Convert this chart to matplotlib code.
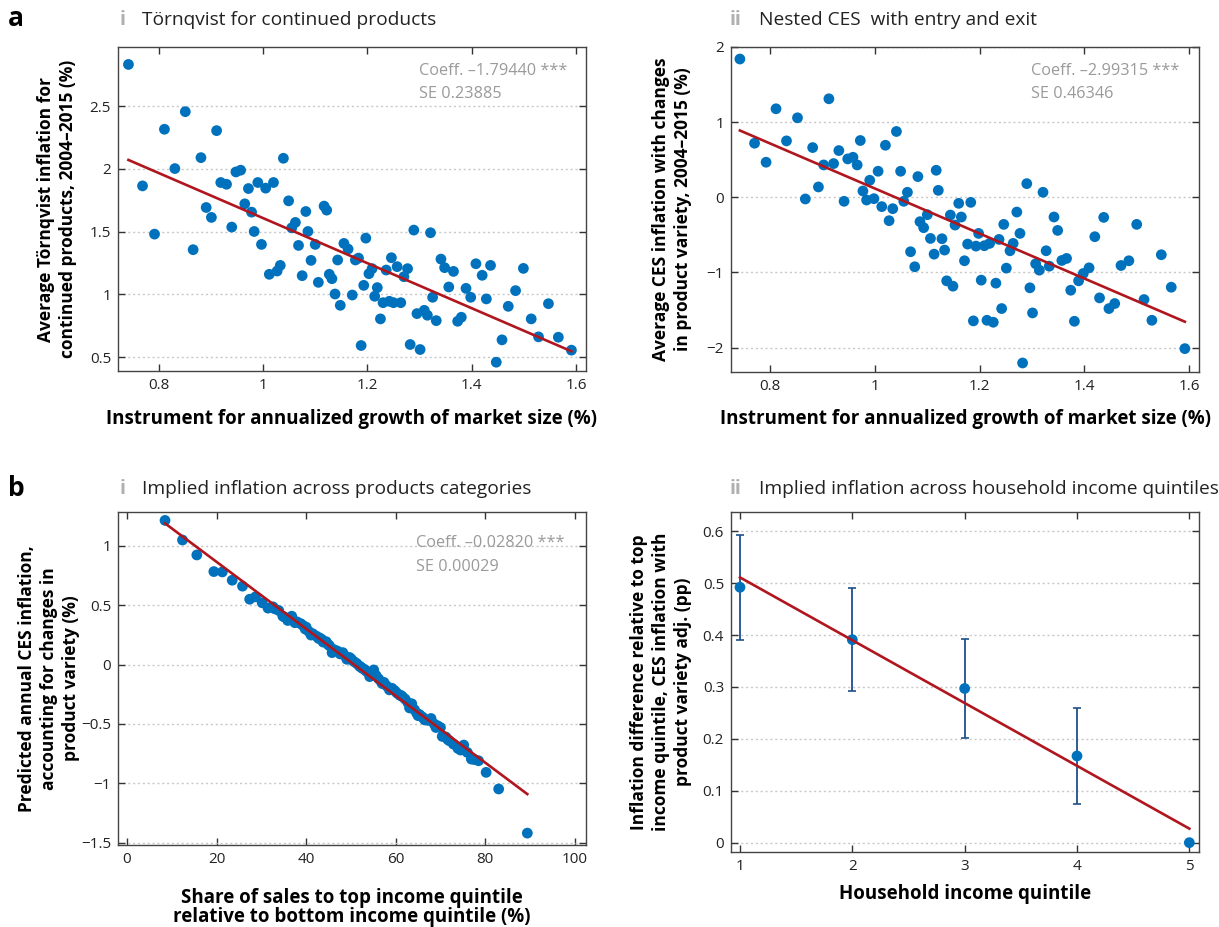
import numpy as np
import matplotlib
matplotlib.use("Agg")
import matplotlib.pyplot as plt
from matplotlib.ticker import FuncFormatter

plt.rcParams['font.family'] = ['Open Sans', 'DejaVu Sans']

# panel a-i : Tornqvist for continued products
ai_x = [0.742, 0.769, 0.792, 0.811, 0.831, 0.851, 0.866, 0.881, 0.891, 0.901,
        0.911, 0.919, 0.930, 0.940, 0.948, 0.957, 0.965, 0.972, 0.978, 0.983,
        0.990, 0.997, 1.005, 1.012, 1.020, 1.027, 1.033, 1.039, 1.049, 1.055,
        1.062, 1.068, 1.075, 1.082, 1.086, 1.092, 1.100, 1.106, 1.117, 1.122,
        1.127, 1.132, 1.138, 1.143, 1.148, 1.155, 1.163, 1.171, 1.177, 1.183,
        1.188, 1.193, 1.197, 1.203, 1.209, 1.214, 1.219, 1.225, 1.230, 1.236,
        1.242, 1.246, 1.250, 1.257, 1.264, 1.270, 1.277, 1.282, 1.289, 1.295,
        1.301, 1.309, 1.315, 1.321, 1.325, 1.332, 1.341, 1.348, 1.356, 1.365,
        1.373, 1.380, 1.389, 1.398, 1.408, 1.420, 1.428, 1.436, 1.447, 1.458,
        1.470, 1.484, 1.499, 1.514, 1.528, 1.547, 1.566, 1.591]
ai_y = [2.831, 1.864, 1.480, 2.315, 2.002, 2.455, 1.356, 2.089, 1.692, 1.613,
        2.304, 1.891, 1.877, 1.536, 1.975, 1.989, 1.721, 1.843, 1.655, 1.501,
        1.891, 1.398, 1.846, 1.160, 1.891, 1.186, 1.231, 2.084, 1.745, 1.530,
        1.573, 1.390, 1.149, 1.660, 1.501, 1.271, 1.398, 1.096, 1.703, 1.671,
        1.160, 1.125, 1.003, 1.274, 0.913, 1.406, 1.361, 0.995, 1.274, 1.289,
        0.593, 1.072, 1.448, 1.165, 1.205, 0.985, 1.054, 0.805, 0.934, 1.194,
        0.945, 1.292, 0.934, 1.221, 0.934, 1.141, 1.205, 0.601, 1.512, 0.847,
        0.561, 0.873, 0.834, 1.491, 0.977, 0.791, 1.281, 1.213, 1.059, 1.183,
        0.786, 0.818, 1.048, 0.977, 1.244, 1.152, 0.964, 1.231, 0.460, 0.638,
        0.905, 1.030, 1.207, 0.805, 0.662, 0.926, 0.659, 0.556]
ai_coef, ai_const = -1.79440, 3.402

# panel a-ii : nested CES with entry and exit
aii_x = [0.742, 0.770, 0.792, 0.811, 0.831, 0.852, 0.867, 0.881, 0.892, 0.902,
         0.912, 0.921, 0.931, 0.941, 0.948, 0.958, 0.966, 0.972, 0.977, 0.984,
         0.990, 0.998, 1.006, 1.013, 1.020, 1.027, 1.034, 1.041, 1.049, 1.055,
         1.062, 1.068, 1.076, 1.082, 1.086, 1.093, 1.100, 1.106, 1.113, 1.117,
         1.121, 1.128, 1.133, 1.137, 1.144, 1.149, 1.153, 1.160, 1.165, 1.171,
         1.177, 1.183, 1.188, 1.193, 1.198, 1.203, 1.209, 1.214, 1.219, 1.226,
         1.231, 1.237, 1.242, 1.246, 1.251, 1.258, 1.264, 1.271, 1.277, 1.282,
         1.290, 1.296, 1.301, 1.307, 1.314, 1.321, 1.327, 1.333, 1.342, 1.349,
         1.357, 1.366, 1.374, 1.381, 1.389, 1.398, 1.409, 1.420, 1.429, 1.437,
         1.447, 1.458, 1.470, 1.485, 1.500, 1.514, 1.529, 1.547, 1.566, 1.592]
aii_y = [1.840, 0.720, 0.467, 1.178, 0.751, 1.058, -0.022, 0.662, 0.138, 0.431,
         1.311, 0.449, 0.622, -0.053, 0.511, 0.533, 0.431, 0.756, 0.084, -0.036,
         0.227, -0.018, 0.347, -0.124, 0.693, -0.311, -0.151, 0.876, 0.347, -0.053,
         0.067, -0.724, -0.924, 0.276, -0.324, -0.404, -0.231, -0.547, -0.756, 0.360,
         0.093, -0.551, -0.702, -1.111, -0.236, -1.182, -0.369, -0.080, -0.262, -0.844,
         -0.622, -0.067, -1.644, -0.649, -0.480, -1.102, -0.644, -1.636, -0.613, -1.662,
         -1.142, -0.560, -1.480, -0.360, -0.942, -0.711, -0.613, -0.196, -0.480, -2.204,
         0.182, -1.204, -1.538, -0.884, -0.969, 0.067, -0.711, -0.916, -0.262, -0.440,
         -0.840, -0.813, -1.236, -1.649, -1.111, -1.013, -0.938, -0.524, -1.338, -0.267,
         -1.480, -1.413, -0.907, -0.844, -0.360, -1.360, -1.636, -0.764, -1.196, -2.013]
aii_coef, aii_const = -2.99315, 3.110

# panel b-i : implied inflation across product categories
bi_x = [8.5, 12.4, 15.6, 19.4, 21.3, 23.5, 25.8, 27.4, 28.7, 30.2,
        31.5, 32.6, 33.0, 33.9, 34.8, 35.2, 35.9, 36.8, 37.0, 37.5,
        38.0, 38.8, 39.3, 39.8, 40.0, 40.6, 41.1, 41.5, 42.3, 42.8,
        43.0, 43.5, 43.8, 44.5, 44.9, 45.2, 45.8, 46.0, 46.5, 47.0,
        47.6, 48.1, 48.2, 48.8, 49.1, 49.7, 50.0, 50.2, 50.7, 51.3,
        51.9, 52.2, 52.5, 53.0, 53.3, 53.6, 54.2, 54.6, 55.1, 55.6,
        56.2, 56.8, 57.0, 57.4, 58.0, 58.6, 59.2, 59.8, 60.3, 60.9,
        61.2, 61.5, 62.1, 62.7, 63.1, 63.6, 64.2, 64.7, 65.0, 65.3,
        65.9, 66.2, 66.5, 67.2, 67.9, 68.6, 69.0, 69.4, 70.0, 70.4,
        71.2, 71.6, 72.0, 72.9, 73.9, 74.5, 75.2, 76.0, 76.9, 77.6,
        78.5, 80.2, 83.0, 89.4]
bi_y = [1.215, 1.050, 0.924, 0.784, 0.781, 0.711, 0.661, 0.551, 0.571, 0.521,
        0.476, 0.487, 0.470, 0.456, 0.408, 0.400, 0.372, 0.408, 0.380, 0.353,
        0.360, 0.345, 0.330, 0.300, 0.316, 0.280, 0.249, 0.260, 0.240, 0.220,
        0.225, 0.213, 0.190, 0.193, 0.170, 0.160, 0.101, 0.130, 0.120, 0.114,
        0.090, 0.095, 0.101, 0.070, 0.045, 0.060, 0.050, 0.040, 0.025, 0.010,
        -0.012, -0.020, -0.030, -0.040, -0.050, -0.060, -0.101, -0.070, -0.045, -0.090,
        -0.120, -0.146, -0.160, -0.150, -0.180, -0.213, -0.200, -0.220, -0.240, -0.258,
        -0.260, -0.270, -0.290, -0.319, -0.365, -0.330, -0.380, -0.409, -0.430, -0.420,
        -0.440, -0.450, -0.466, -0.470, -0.454, -0.500, -0.530, -0.516, -0.530, -0.605,
        -0.610, -0.630, -0.642, -0.670, -0.706, -0.720, -0.678, -0.740, -0.796, -0.800,
        -0.810, -0.908, -1.048, -1.420]
bi_coef, bi_const = -0.02820, 1.430

# panel b-ii : implied inflation across household income quintiles
bii_q = [1, 2, 3, 4, 5]
bii_y = [0.492, 0.391, 0.297, 0.167, 0.0]
bii_lo = [0.390, 0.292, 0.202, 0.074, 0.0]
bii_hi = [0.592, 0.490, 0.392, 0.259, 0.0]
bii_coef, bii_const = -0.121, 0.632

BLUE = '#0072BD'
RED = '#B0161E'
GREY = '#9a9a9a'
W, H = 1219, 927
XL = 13.5   # x label size
YL = 12.5   # y label size
YLS = 1.3   # y label line spacing


def fmt(v, pos):
    s = '%g' % round(v, 6)
    return s.replace('-', '\u2212')


def style(ax, xticks, yticks, xlim, ylim):
    ax.set_xlim(*xlim)
    ax.set_ylim(*ylim)
    ax.set_xticks(xticks)
    ax.set_yticks(yticks)
    ax.xaxis.set_major_formatter(FuncFormatter(fmt))
    ax.yaxis.set_major_formatter(FuncFormatter(fmt))
    ax.tick_params(direction='in', top=True, right=True, length=5, width=1,
                   color='#333333', labelsize=11, labelcolor='#222222', pad=5)
    for s in ax.spines.values():
        s.set_color('#444444')
        s.set_linewidth(1)
    ax.yaxis.grid(True, linestyle=(0, (1.5, 2)), color='#c8c8c8', linewidth=1)
    ax.set_axisbelow(True)


def box(l, t, r, b):
    return [l / W, 1 - b / H, (r - l) / W, (b - t) / H]


def head(x, y, num, txt):
    fig.text(x / W, 1 - y / H, num, color='#b0b0b0', fontsize=14, fontweight='bold', va='center')
    fig.text((x + 22 + 7 * (len(num) - 1)) / W, 1 - y / H, txt, color='#222222', fontsize=13.8, va='center')


def note(ax, x, y, coef, se):
    ax.text(x, y, 'Coeff. %s ***\nSE %s' % (coef, se), transform=ax.transAxes,
            color=GREY, fontsize=11.7, va='top', linespacing=1.6)


fig = plt.figure(figsize=(W / 100, H / 100), dpi=100)

# a-i
ax1 = fig.add_axes(box(118, 47, 586, 371))
style(ax1, [0.8, 1, 1.2, 1.4, 1.6], [0.5, 1, 1.5, 2, 2.5], (0.722, 1.619), (0.39, 2.97))
ax1.scatter(ai_x, ai_y, s=60, color=BLUE, edgecolors='none', zorder=3)
xx = np.array([min(ai_x), max(ai_x)])
ax1.plot(xx, ai_const + ai_coef * xx, color=RED, lw=1.9, zorder=4)
note(ax1, 0.643, 0.95, '\u20131.79440', '0.23885')
ax1.set_xlabel('Instrument for annualized growth of market size (%)', fontweight='bold', fontsize=XL)
ax1.xaxis.set_label_coords(0.5, -0.117)
ax1.set_ylabel('Average T\u00f6rnqvist inflation for\ncontinued products, 2004\u20132015 (%)',
               fontweight='bold', fontsize=YL, linespacing=YLS)
ax1.yaxis.set_label_coords(-0.088, 0.5)

# a-ii
ax2 = fig.add_axes(box(731, 47, 1199, 372))
style(ax2, [0.8, 1, 1.2, 1.4, 1.6], [-2, -1, 0, 1, 2], (0.725, 1.619), (-2.324, 2.0))
ax2.scatter(aii_x, aii_y, s=60, color=BLUE, edgecolors='none', zorder=3)
xx = np.array([min(aii_x), max(aii_x)])
ax2.plot(xx, aii_const + aii_coef * xx, color=RED, lw=1.9, zorder=4)
note(ax2, 0.641, 0.95, '\u20132.99315', '0.46346')
ax2.set_xlabel('Instrument for annualized growth of market size (%)', fontweight='bold', fontsize=XL)
ax2.xaxis.set_label_coords(0.5, -0.114)
ax2.set_ylabel('Average CES inflation with changes\nin product variety, 2004\u20132015 (%)',
               fontweight='bold', fontsize=YL, linespacing=YLS)
ax2.yaxis.set_label_coords(-0.083, 0.5)

# b-i
ax3 = fig.add_axes(box(118, 512, 586, 845))
style(ax3, [0, 20, 40, 60, 80, 100], [-1.5, -1, -0.5, 0, 0.5, 1], (-2, 102.5), (-1.52, 1.286))
ax3.scatter(bi_x, bi_y, s=60, color=BLUE, edgecolors='none', zorder=3)
xx = np.array([min(bi_x), max(bi_x)])
ax3.plot(xx, bi_const + bi_coef * xx, color=RED, lw=1.9, zorder=4)
note(ax3, 0.637, 0.93, '\u20130.02820', '0.00029')
ax3.set_xlabel('Share of sales to top income quintile\nrelative to bottom income quintile (%)',
               fontweight='bold', fontsize=XL, linespacing=0.95)
ax3.xaxis.set_label_coords(0.5, -0.128)
ax3.set_ylabel('Predicted annual CES inflation,\naccounting for changes in\nproduct variety (%)',
               fontweight='bold', fontsize=YL, linespacing=YLS)
ax3.yaxis.set_label_coords(-0.081, 0.5)

# b-ii
ax4 = fig.add_axes(box(731, 512, 1199, 852))
style(ax4, [1, 2, 3, 4, 5], [0, 0.1, 0.2, 0.3, 0.4, 0.5, 0.6], (0.92, 5.086), (-0.018, 0.637))
yerr = [np.array(bii_y) - np.array(bii_lo), np.array(bii_hi) - np.array(bii_y)]
ax4.errorbar(bii_q, bii_y, yerr=yerr, fmt='none', ecolor='#1F4F8A', elinewidth=1.3,
             capsize=3, capthick=1.2, zorder=3)
ax4.scatter(bii_q, bii_y, s=60, color=BLUE, edgecolors='none', zorder=4)
xx = np.array([min(bii_q), max(bii_q)])
ax4.plot(xx, bii_const + bii_coef * xx, color=RED, lw=1.9, zorder=5)
ax4.set_xlabel('Household income quintile', fontweight='bold', fontsize=XL)
ax4.xaxis.set_label_coords(0.5, -0.094)
ax4.set_ylabel('Inflation difference relative to top\nincome quintile, CES inflation with\nproduct variety adj. (pp)',
               fontweight='bold', fontsize=YL, linespacing=YLS)
ax4.yaxis.set_label_coords(-0.083, 0.5)

# panel letters and headings
fig.text(8 / W, 1 - 19 / H, 'a', fontsize=19, fontweight='bold', va='center')
fig.text(8 / W, 1 - 489 / H, 'b', fontsize=19, fontweight='bold', va='center')
head(120, 20, 'i', 'T\u00f6rnqvist for continued products')
head(730, 20, 'ii', 'Nested CES  with entry and exit')
head(120, 489, 'i', 'Implied inflation across products categories')
head(730, 489, 'ii', 'Implied inflation across household income quintiles')

plt.savefig('out.png', dpi=100)
plt.close()
